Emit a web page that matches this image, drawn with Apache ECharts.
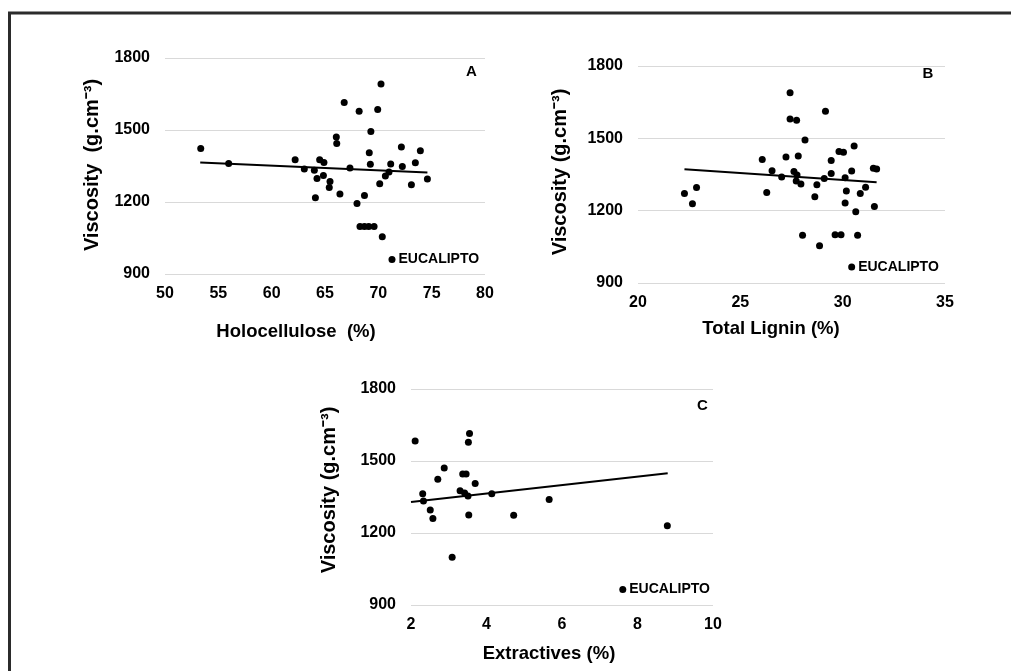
<!DOCTYPE html>
<html>
<head>
<meta charset="utf-8">
<script src="https://cdn.jsdelivr.net/npm/echarts@6/dist/echarts.min.js"></script>
<style>
html,body{margin:0;padding:0;background:#fff;}
#chart{width:1011px;height:671px;}
</style>
</head>
<body>
<div id="chart"></div>
<script>
// ---- Data ----
const yTicks = [900, 1200, 1500, 1800];
const holoTicks = [50, 55, 60, 65, 70, 75, 80];
const ligninTicks = [20, 25, 30, 35];
const extractTicks = [2, 4, 6, 8, 10];

const holoPoints = [
  [53.35,1423],[55.97,1360],[62.2,1376],[63.06,1338],[64.0,1332],[64.5,1376],[64.9,1365],
  [64.25,1298],[64.85,1310],[64.1,1218],[65.47,1285],[65.4,1260],[66.06,1471],[66.1,1444],
  [66.4,1233],[66.8,1615],[67.34,1342],[68.2,1578],[68.0,1194],[68.7,1227],[68.28,1098],
  [68.7,1098],[69.1,1098],[69.6,1098],[70.37,1055],[70.25,1692],[69.94,1585],[69.3,1494],
  [69.15,1405],[69.25,1357],[70.13,1276],[70.66,1308],[71.0,1325],[71.16,1358],[72.16,1429],
  [72.25,1348],[73.1,1272],[73.47,1364],[73.94,1414],[74.6,1296]
];
const holoEucalipto = [[71.28, 960]];
const holoTrend = [[53.3, 1365], [74.6, 1323]];

const ligninPoints = [
  [22.27,1271],[22.66,1229],[22.86,1296],[26.07,1412],[26.29,1275],[26.55,1366],[27.02,1340],
  [27.23,1423],[27.43,1689],[27.43,1580],[27.75,1575],[27.83,1427],[27.62,1362],[27.77,1348],
  [27.73,1323],[27.96,1311],[28.16,1493],[28.04,1098],[28.64,1258],[28.74,1308],[28.87,1055],
  [29.1,1333],[29.16,1612],[29.44,1408],[29.44,1354],[29.63,1100],[29.92,1100],[29.82,1445],
  [30.04,1442],[30.12,1337],[30.18,1282],[30.12,1232],[30.44,1365],[30.56,1468],[30.64,1196],
  [30.73,1098],[30.86,1271],[31.12,1297],[31.5,1376],[31.66,1373],[31.55,1217]
];
const ligninEucalipto = [[30.44, 966]];
const ligninTrend = [[22.27, 1372], [31.66, 1318]];

const extractPoints = [
  [2.11,1583],[2.31,1364],[2.33,1333],[2.51,1296],[2.58,1260],[2.71,1424],[2.88,1471],
  [3.09,1099],[3.30,1376],[3.37,1446],[3.46,1446],[3.42,1367],[3.51,1354],[3.53,1275],
  [3.52,1578],[3.55,1615],[3.70,1406],[4.14,1364],[4.72,1274],[5.66,1340],[8.79,1230]
];
const extractEucalipto = [[7.61, 965]];
const extractTrend = [[2.0, 1329], [8.8, 1449]];

const eucaliptoLabel = 'EUCALIPTO';
const yTitles = ['Viscosity  (g.cm\u207B\u00B3)', 'Viscosity (g.cm\u207B\u00B3)', 'Viscosity (g.cm\u207B\u00B3)'];
const xTitles = ['Holocellulose  (%)', 'Total Lignin (%)', 'Extractives (%)'];
const panelLetters = ['A', 'B', 'C'];

// ---- Styling / layout ----
const FONT = '"Liberation Sans", Arial, sans-serif';
const TXT = '#000';
const grids = [
  {left: 165, top: 58, width: 320, height: 216},
  {left: 638, top: 66, width: 307, height: 217},
  {left: 411, top: 389, width: 302, height: 216}
];
const xRanges = [
  {min: holoTicks[0], max: holoTicks[holoTicks.length-1], interval: holoTicks[1]-holoTicks[0]},
  {min: ligninTicks[0], max: ligninTicks[ligninTicks.length-1], interval: ligninTicks[1]-ligninTicks[0]},
  {min: extractTicks[0], max: extractTicks[extractTicks.length-1], interval: extractTicks[1]-extractTicks[0]}
];
const pointSets = [holoPoints, ligninPoints, extractPoints];
const eucSets = [holoEucalipto, ligninEucalipto, extractEucalipto];
const trendSets = [holoTrend, ligninTrend, extractTrend];

const plain = function (v) { return String(v); };
const xAxis = [], yAxis = [], series = [];
for (let i = 0; i < 3; i++) {
  xAxis.push({
    type: 'value', gridIndex: i, min: xRanges[i].min, max: xRanges[i].max, interval: xRanges[i].interval,
    axisLine: {show: false}, axisTick: {show: false}, splitLine: {show: false},
    axisLabel: {margin: 12, color: TXT, fontFamily: FONT, fontWeight: 'bold', fontSize: 16, formatter: plain}
  });
  yAxis.push({
    type: 'value', gridIndex: i, min: yTicks[0], max: yTicks[yTicks.length-1], interval: yTicks[1]-yTicks[0],
    axisLine: {show: false}, axisTick: {show: false},
    splitLine: {show: true, lineStyle: {color: '#d9d9d9', width: 1}},
    axisLabel: {margin: 15, color: TXT, fontFamily: FONT, fontWeight: 'bold', fontSize: 16, formatter: plain}
  });
  series.push({
    type: 'line', xAxisIndex: i, yAxisIndex: i, data: trendSets[i], symbol: 'none',
    lineStyle: {color: '#000', width: 2}, silent: true, z: 2
  });
  series.push({
    type: 'scatter', xAxisIndex: i, yAxisIndex: i, data: pointSets[i], symbol: 'circle', symbolSize: 7,
    itemStyle: {color: '#000', opacity: 1}, z: 3
  });
  series.push({
    type: 'scatter', xAxisIndex: i, yAxisIndex: i, data: eucSets[i], symbol: 'circle', symbolSize: 7,
    itemStyle: {color: '#000', opacity: 1}, z: 3,
    label: {show: true, position: 'right', distance: 3, formatter: eucaliptoLabel,
      color: TXT, fontFamily: FONT, fontWeight: 'bold', fontSize: 14}
  });
}

function txt(x, y, text, size, rot) {
  return {type: 'text', x: x, y: y, rotation: rot || 0, z: 10,
    style: {text: text, fill: TXT, font: 'bold ' + size + 'px ' + FONT, align: 'center', verticalAlign: 'middle'}};
}

const graphic = [
  {type: 'rect', shape: {x: 9.5, y: 13, width: 1200, height: 1000},
   style: {fill: 'none', stroke: '#2b2b2b', lineWidth: 3}, z: 0},
  txt(92, 165, yTitles[0], 20, Math.PI/2),
  txt(560, 172, yTitles[1], 20, Math.PI/2),
  txt(329, 490, yTitles[2], 20, Math.PI/2),
  txt(296, 332, xTitles[0], 18.5, 0),
  txt(771, 329, xTitles[1], 18.5, 0),
  txt(549, 654, xTitles[2], 18.5, 0),
  txt(471.5, 72, panelLetters[0], 15),
  txt(928, 74, panelLetters[1], 15),
  txt(702.5, 405.5, panelLetters[2], 15)
];

const chart = echarts.init(document.getElementById('chart'), null, {renderer: 'canvas'});
chart.setOption({
  backgroundColor: '#fff',
  animation: false,
  grid: grids,
  xAxis: xAxis,
  yAxis: yAxis,
  series: series,
  graphic: graphic
});
</script>
</body>
</html>
